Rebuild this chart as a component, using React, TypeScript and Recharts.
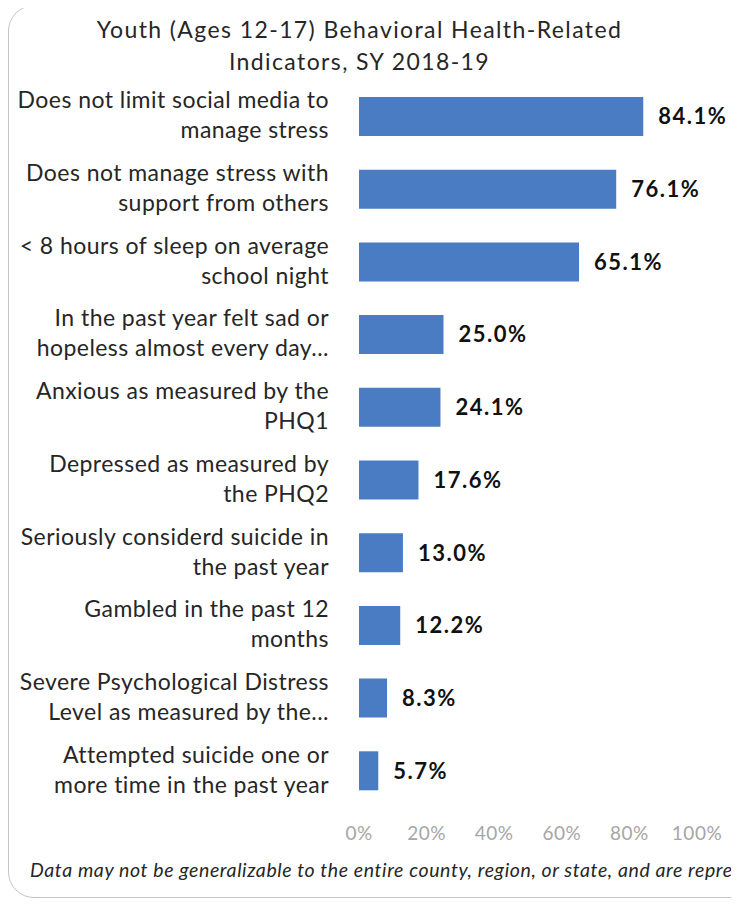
import React from "react";
import { BarChart, Bar, XAxis, YAxis, LabelList } from "recharts";

// indicator labels, each split into its two printed lines
const labelLines: string[][] = [
	["Does not limit social media to", "manage stress"],
	["Does not manage stress with", "support from others"],
	["< 8 hours of sleep on average", "school night"],
	["In the past year felt sad or", "hopeless almost every day..."],
	["Anxious as measured by the", "PHQ1"],
	["Depressed as measured by", "the PHQ2"],
	["Seriously considerd suicide in", "the past year"],
	["Gambled in the past 12", "months"],
	["Severe Psychological Distress", "Level as measured by the..."],
	["Attempted suicide one or", "more time in the past year"]
];
const values = [84.1, 76.1, 65.1, 25.0, 24.1, 17.6, 13.0, 12.2, 8.3, 5.7];
const xTicks = [0, 20, 40, 60, 80, 100];

const data = labelLines.map((lines, i) => ({
	name: lines.join(" "),
	value: values[i]
}));

const FONT = "Lato, 'Open Sans', sans-serif";

function CategoryTick({ x, y, index }: any) {
	const lines = labelLines[index] || [];
	return (
		<text
			x={x - 22}
			y={y}
			textAnchor="end"
			fill="#262626"
			fontSize={23}
			letterSpacing={0.45}
			fontFamily={FONT}
		>
			<tspan x={x - 22} dy={-8}>
				{lines[0]}
			</tspan>
			<tspan x={x - 22} dy={30}>
				{lines[1]}
			</tspan>
		</text>
	);
}

export default function App() {
	return (
		<div
			style={{
				position: "relative",
				width: 739,
				height: 907,
				margin: "-8px 0 0 -8px",
				overflow: "hidden",
				background: "#fff",
				fontFamily: FONT
			}}
		>
			<div
				style={{
					position: "absolute",
					left: 8,
					top: 5,
					width: 760,
					height: 893,
					border: "1.5px solid #c4c4c4",
					borderRadius: 26,
					boxSizing: "border-box"
				}}
			/>
			<div
				style={{
					position: "absolute",
					left: -10,
					top: 13,
					width: 739,
					textAlign: "center",
					fontSize: 23,
					letterSpacing: 1.4,
					lineHeight: "32px",
					color: "#262626"
				}}
			>
				Youth (Ages 12-17) Behavioral Health-Related
				<br />
				Indicators, SY 2018-19
			</div>
			<div style={{ position: "absolute", left: 0, top: 0 }}>
				<BarChart
					width={739}
					height={860}
					data={data}
					layout="vertical"
					margin={{ top: 80, right: 42, bottom: 0, left: 0 }}
					barCategoryGap={17}
				>
					<XAxis
						type="number"
						domain={[0, 100]}
						ticks={xTicks}
						tickFormatter={(v: number) => `${v}%`}
						axisLine={false}
						tickLine={false}
						height={53}
						tickMargin={14}
						tick={{ fill: "#a6a6a6", fontSize: 19, letterSpacing: 0.5, fontFamily: FONT }}
					/>
					<YAxis
						type="category"
						dataKey="name"
						width={359}
						axisLine={false}
						tickLine={false}
						interval={0}
						tick={<CategoryTick />}
					/>
					<Bar dataKey="value" fill="#4a7cc4" isAnimationActive={false}>
						<LabelList
							dataKey="value"
							position="right"
							offset={15}
							formatter={(v: any) => `${Number(v).toFixed(1)}%`}
							fill="#111"
							fontSize={22}
							fontWeight="bold"
							letterSpacing={1.5}
							fontFamily={FONT}
						/>
					</Bar>
				</BarChart>
			</div>
			<div
				style={{
					position: "absolute",
					left: 30,
					top: 858,
					whiteSpace: "nowrap",
					fontStyle: "italic",
					fontSize: 19.5,
					letterSpacing: 0.6,
					color: "#262626"
				}}
			>
				Data may not be generalizable to the entire county, region, or state, and are representative of the students surveyed.
			</div>
		</div>
	);
}
